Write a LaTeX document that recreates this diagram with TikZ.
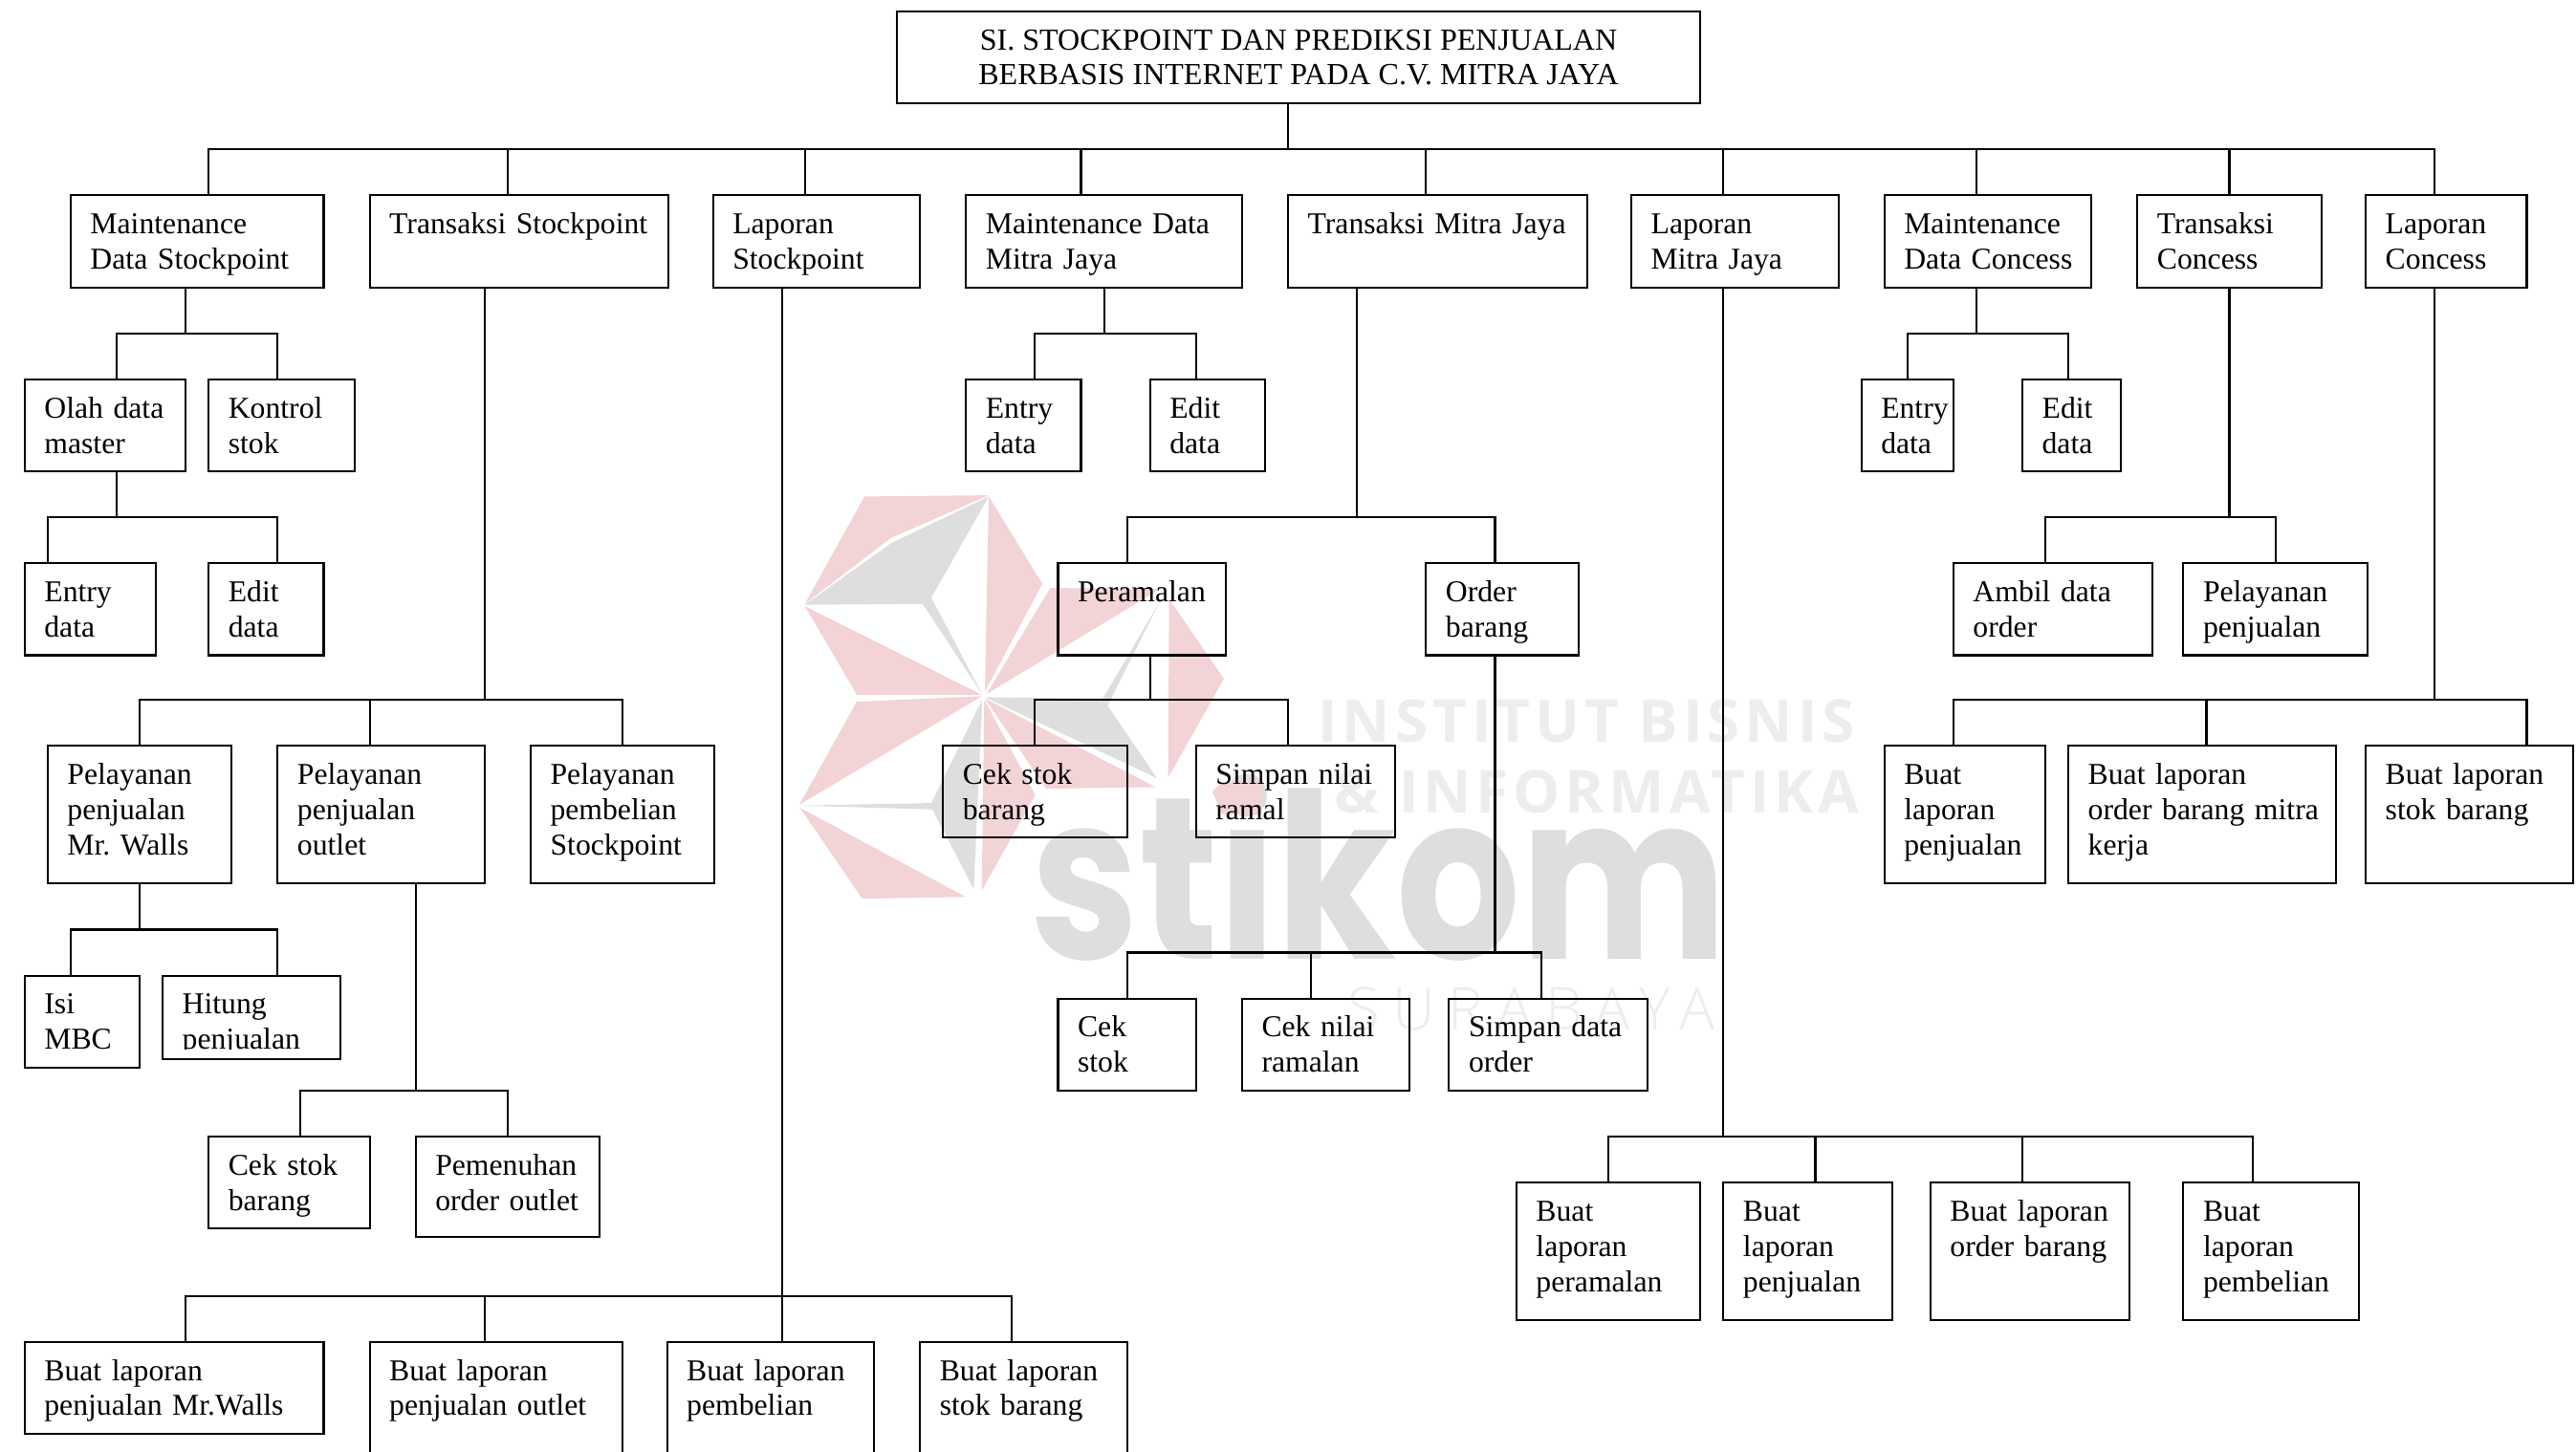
\documentclass[tikz,border=0pt]{standalone}
\usepackage{fontspec}
\setmainfont{Liberation Serif}
\newfontfamily\wmtebal[LetterSpace=8]{Open Sans}
\newfontfamily\wmtipis[LetterSpace=22]{Open Sans Light}
\newfontfamily\wmlogo{Poppins}
\usetikzlibrary{calc}

\definecolor{wmpink}{HTML}{F2D3D6}
\definecolor{wmgray}{HTML}{DEDEDE}
\definecolor{wmtext}{HTML}{EDEDED}

\tikzset{
  kotak/.style 2 args={draw, anchor=north west, line width=0.7pt, outer sep=0pt,
    font=\fontsize{10.5}{12.2}\selectfont, inner xsep=0.24cm, inner ysep=0pt,
    execute at begin node={\frenchspacing\hyphenpenalty=10000\rightskip=-4pt plus 1fil\relax},
    text width={(#1-24)*0.02cm}, text height=0.47cm, text depth={(#2-23.5)*0.02cm}},
  judul/.style={draw, anchor=north west, line width=0.7pt, outer sep=0pt, align=center,
    font=\fontsize{10.62}{12.2}\selectfont, inner sep=0pt,
    minimum width=9.78cm, minimum height=1.12cm},
  garis/.style={line width=0.7pt}
}

% parent, stem x, bus y, child/drop x
\newcommand{\cabang}[4]{
  \draw[garis] foreach \anak/\turun in {#4} {
    (#1.south -| #2,0) -- (#2,#3) -| (\anak.north -| \turun,0)
  };
}

\begin{document}
\begin{tikzpicture}[x=0.02cm,y=-0.02cm]
  \useasboundingbox (0,0) rectangle (1568,884);
  \clip (0,0) rectangle (1568,884);

  % watermark
  \node[anchor=base west, inner sep=0pt, text=wmgray, xscale=0.845, transform shape,
    font=\wmlogo\bfseries\fontsize{80}{80}\selectfont] (wmstikom) at (627,584) {stikom};
  \begin{scope}[shift={(483.1,296.9)},scale=0.194]
    \fill[wmpink] (222,28) -- (612,24) -- (305,158) -- (35,365) -- cycle;
    \fill[wmgray] (35,368) -- (305,175) -- (612,28) -- (432,345) -- (405,365) -- cycle;
    \fill[wmgray] (432,345) -- (592,650) -- (405,365) -- cycle;
    \fill[wmpink] (35,372) -- (590,650) -- (198,650) -- cycle;
    \fill[wmpink] (612,28) -- (780,302) -- (600,640) -- cycle;
    \fill[wmpink] (805,315) -- (1150,318) -- (605,648) -- cycle;
    \fill[wmpink] (1178,350) -- (1350,600) -- (1175,910) -- cycle;
    \fill[wmgray] (1150,355) -- (985,685) -- (970,662) -- cycle;
    \fill[wmgray] (600,658) -- (970,662) -- (985,685) -- (1140,912) -- cycle;
    \fill[wmpink] (600,662) -- (1135,940) -- (792,945) -- cycle;
    \fill[wmpink] (198,672) -- (590,655) -- (18,995) -- cycle;
    \fill[wmgray] (592,665) -- (432,990) -- (20,998) -- (435,1010) -- (565,1260) -- cycle;
    \fill[wmpink] (598,665) -- (758,965) -- (590,1265) -- cycle;
    \fill[wmpink] (20,1005) -- (540,1285) -- (215,1290) -- cycle;
  \end{scope}
  \fill[wmpink] (738,482) -- (744,476) -- (768,476) -- (768,496) -- (744,496) -- cycle;
  \node[anchor=base west, inner sep=0pt, text=wmtext,
    font=\wmtebal\bfseries\fontsize{20.5}{20.5}\selectfont] (wminstitut) at (802,452) {INSTITUT BISNIS};
  \node[anchor=base west, inner sep=0pt, text=wmtext,
    font=\wmtebal\bfseries\fontsize{20.5}{20.5}\selectfont] (wminformatika) at (812,495) {\& INFORMATIKA};
  \node[anchor=base west, inner sep=0pt, text=wmtext,
    font=\wmtipis\fontsize{20.5}{20.5}\selectfont] (wmsurabaya) at (820,627) {SURABAYA};

  \node[judul] (root) at (546,7) {SI. STOCKPOINT DAN PREDIKSI PENJUALAN\\BERBASIS INTERNET PADA C.V. MITRA JAYA};

  \node[kotak={154}{56}] (mds) at (43,119) {Maintenance\\Data Stockpoint};
  \node[kotak={182}{56}] (ts) at (225,119) {Transaksi Stockpoint};
  \node[kotak={126}{56}] (ls) at (434,119) {Laporan\\Stockpoint};
  \node[kotak={168}{56}] (mdm) at (588,119) {Maintenance Data\\Mitra Jaya};
  \node[kotak={182}{56}] (tm) at (784,119) {Transaksi Mitra Jaya};
  \node[kotak={126}{56}] (lm) at (993,119) {Laporan\\Mitra Jaya};
  \node[kotak={126}{56}] (mdc) at (1147,119) {Maintenance\\Data Concess};
  \node[kotak={112}{56}] (tc) at (1301,119) {Transaksi\\Concess};
  \node[kotak={98}{56}] (lc) at (1440,119) {Laporan\\Concess};

  \node[kotak={98}{56}] (olah) at (15,231) {Olah data\\master};
  \node[kotak={89}{56}] (kontrol) at (127,231) {Kontrol\\stok};
  \node[kotak={80}{56}] (entrys) at (15,343) {Entry\\data};
  \node[kotak={70}{56}] (edits) at (127,343) {Edit\\data};

  \node[kotak={112}{84}] (pmr) at (29,454) {Pelayanan\\penjualan\\Mr. Walls};
  \node[kotak={126}{84}] (pout) at (169,454) {Pelayanan\\penjualan\\outlet};
  \node[kotak={112}{84}] (pstock) at (323,454) {Pelayanan\\pembelian\\Stockpoint};
  \node[kotak={70}{56}] (isi) at (15,594) {Isi\\MBC};
  \node[kotak={108}{51}] (hitung) at (99,594) {Hitung\\penjualan};
  \fill[white] (100,639) rectangle (206,644.2);
  \node[kotak={98}{56}] (cekout) at (127,692) {Cek stok\\barang};
  \node[kotak={112}{61}] (penuh) at (253,692) {Pemenuhan\\order outlet};

  \node[kotak={182}{56}] (lapmr) at (15,817) {Buat laporan\\penjualan Mr.Walls};
  \node[kotak={154}{72}] (lapout) at (225,817) {Buat laporan\\penjualan outlet};
  \node[kotak={126}{72}] (lapbeli) at (406,817) {Buat laporan\\pembelian};
  \node[kotak={126}{72}] (lapstok) at (560,817) {Buat laporan\\stok barang};

  \node[kotak={70}{56}] (entrym) at (588,231) {Entry\\data};
  \node[kotak={70}{56}] (editm) at (700,231) {Edit\\data};
  \node[kotak={102}{56}] (ramal) at (644,343) {Peramalan};
  \node[kotak={93}{56}] (order) at (868,343) {Order\\barang};
  \node[kotak={112}{56}] (cekb) at (574,454) {Cek stok\\barang};
  \node[kotak={121}{56}] (simpann) at (728,454) {Simpan nilai\\ramal};
  \node[kotak={84}{56}] (cek) at (644,608) {Cek\\stok};
  \node[kotak={102}{56}] (cekn) at (756,608) {Cek nilai\\ramalan};
  \node[kotak={121}{56}] (simpand) at (882,608) {Simpan data\\order};

  \node[kotak={112}{84}] (lmramal) at (923,720) {Buat\\laporan\\peramalan};
  \node[kotak={103}{84}] (lmjual) at (1049,720) {Buat\\laporan\\penjualan};
  \node[kotak={121}{84}] (lmorder) at (1175,720) {Buat laporan\\order barang};
  \node[kotak={107}{84}] (lmbeli) at (1329,720) {Buat\\laporan\\pembelian};

  \node[kotak={56}{56}] (entryc) at (1133,231) {Entry\\data};
  \node[kotak={60}{56}] (editc) at (1231,231) {Edit\\data};
  \node[kotak={121}{56}] (ambil) at (1189,343) {Ambil data\\order};
  \node[kotak={112}{56}] (pjual) at (1329,343) {Pelayanan\\penjualan};
  \node[kotak={98}{84}] (lcjual) at (1147,454) {Buat\\laporan\\penjualan};
  \node[kotak={163}{84}] (lcorder) at (1259,454) {Buat laporan\\order barang mitra\\kerja};
  \node[kotak={126}{84}] (lcstok) at (1440,454) {Buat laporan\\stok barang};

  \cabang{root}{784}{91}{mds/127,ts/309,ls/490,mdm/658,tm/868,lm/1049,mdc/1203,tc/1357,lc/1482}
  \cabang{mds}{113}{203}{olah/71,kontrol/169}
  \cabang{olah}{71}{315}{entrys/29,edits/169}
  \cabang{ts}{295}{426}{pmr/85,pout/225,pstock/379}
  \cabang{pmr}{85}{566}{isi/43,hitung/169}
  \cabang{pout}{253}{664}{cekout/183,penuh/309}
  \cabang{ls}{476}{789}{lapmr/113,lapout/295,lapbeli/476,lapstok/616}
  \cabang{mdm}{672}{203}{entrym/630,editm/728}
  \cabang{tm}{826}{315}{ramal/686,order/910}
  \cabang{ramal}{700}{426}{cekb/630,simpann/784}
  \cabang{order}{910}{580}{cek/686,cekn/798,simpand/938}
  \cabang{lm}{1049}{692}{lmramal/979,lmjual/1105,lmorder/1231,lmbeli/1371}
  \cabang{mdc}{1203}{203}{entryc/1161,editc/1259}
  \cabang{tc}{1357}{315}{ambil/1245,pjual/1385}
  \cabang{lc}{1482}{426}{lcjual/1189,lcorder/1343,lcstok/1538}
\end{tikzpicture}
\end{document}
